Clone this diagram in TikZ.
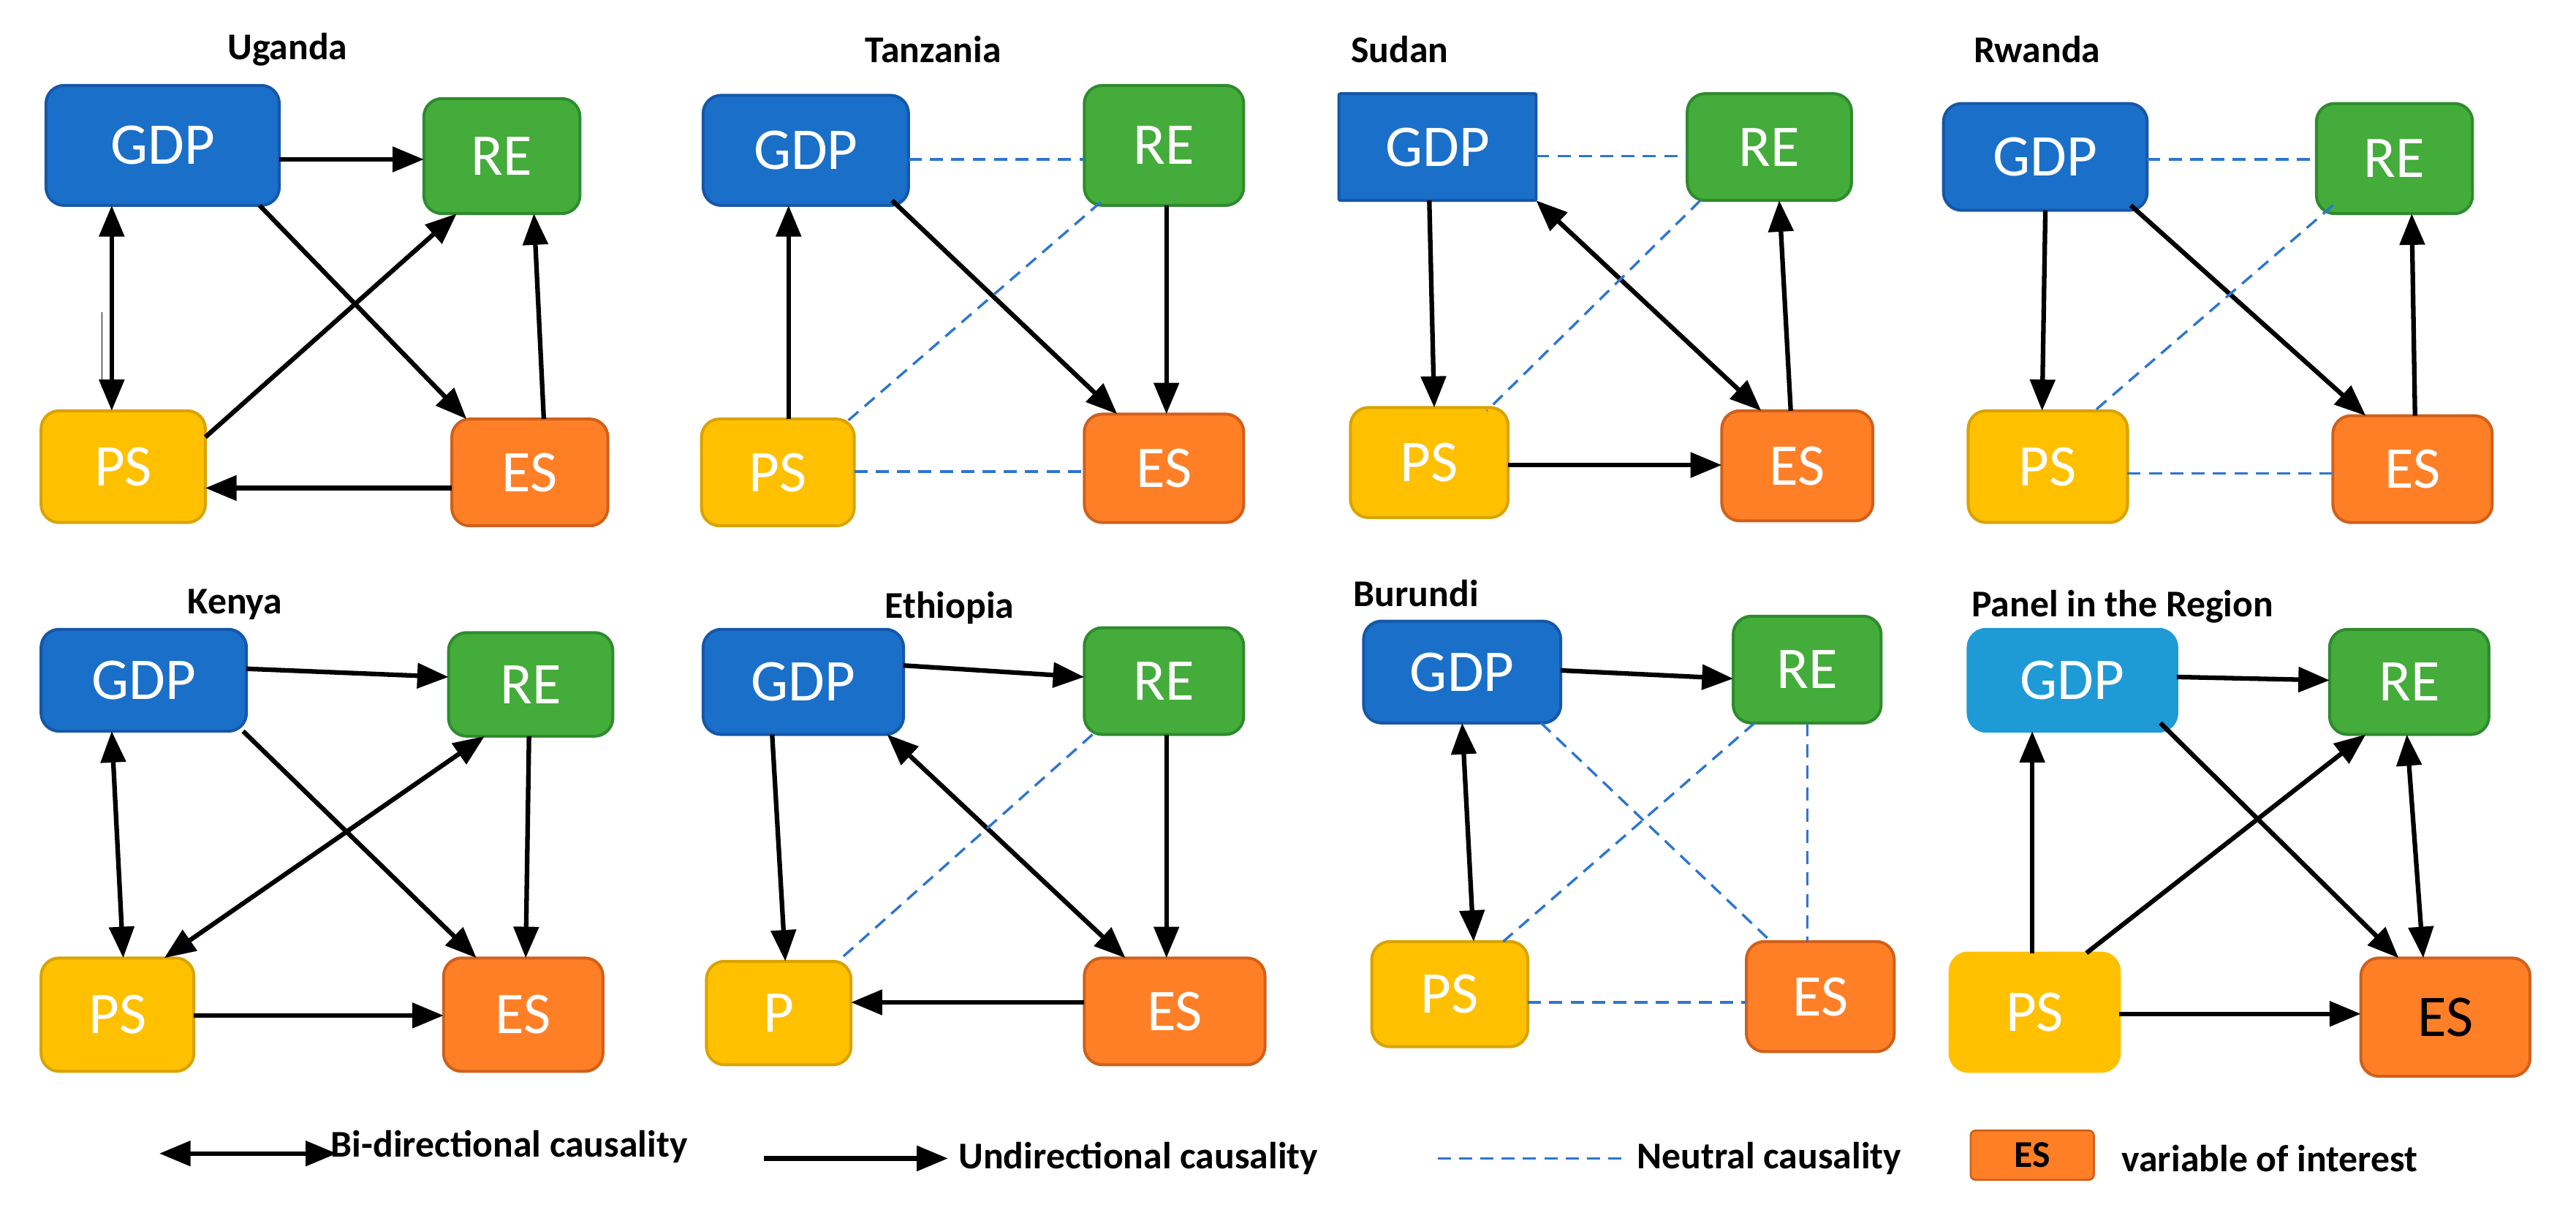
\documentclass[tikz,border=0pt]{standalone}
\usepackage{fontspec}
\setmainfont{Carlito}
\usetikzlibrary{arrows.meta}
\definecolor{cB}{HTML}{1A6FC9}\definecolor{cBd}{HTML}{1557A8}
\definecolor{cLB}{HTML}{1E9AD6}
\definecolor{cG}{HTML}{44AC3A}\definecolor{cGd}{HTML}{2E8B2E}
\definecolor{cY}{HTML}{FFC000}\definecolor{cYd}{HTML}{D9A300}
\definecolor{cO}{HTML}{FF7F27}\definecolor{cOd}{HTML}{D0601A}
\definecolor{cN}{HTML}{2E75D0}
\newcommand\bx[7]{%
 \expandafter\def\csname bx@#1@x\endcsname{#2}%
 \expandafter\def\csname bx@#1@y\endcsname{#3}%
 \node[box,#6,minimum width={(#4-#2)*1pt},minimum height={(#5-#3)*1pt},anchor=north west] (#1) at (#2,#3) {#7};}
\newcommand\pp[3]{([shift={({#2-\csname bx@#1@x\endcsname},{#3-\csname bx@#1@y\endcsname})}]#1.north west)}
\newcommand\ar[7]{\draw[#1] \pp{#2}{#3}{#4} -- \pp{#5}{#6}{#7};}
\begin{document}
\begin{tikzpicture}[x=1pt,y=-1pt,
 box/.style={rounded corners=11pt,line width=1.8pt,inner sep=0pt,outer sep=0pt,text=white,font=\fontsize{36}{38}\selectfont},
 gdp/.style={fill=cB,draw=cBd},lgdp/.style={fill=cLB,draw=cLB},
 re/.style={fill=cG,draw=cGd},ps/.style={fill=cY,draw=cYd},es/.style={fill=cO,draw=cOd},
 uni/.style={line width=2.8pt,-{Triangle[length=19pt,width=15pt]}},
 bi/.style={line width=2.8pt,{Triangle[length=19pt,width=15pt]}-{Triangle[length=19pt,width=15pt]}},
 neu/.style={draw=cN,line width=1.5pt,dash pattern=on 8pt off 5pt},
 ttl/.style={font=\fontsize{23}{25}\selectfont\bfseries},
 lg/.style={font=\fontsize{23}{25}\selectfont\bfseries,anchor=west}]
\useasboundingbox (0,0) rectangle (1568,736);
% Uganda
\node[ttl] (t1) at (175,30) {Uganda};
\bx{G1}{28}{52}{170}{125}{gdp}{GDP}\bx{R1}{258}{60}{353}{130}{re}{RE}
\bx{P1}{25}{250}{125}{318}{ps}{PS}\bx{E1}{275}{255}{370}{320}{es}{ES}
\ar{uni}{G1}{170}{97}{R1}{258}{97}
\ar{bi}{G1}{68}{125}{P1}{68}{250}
\ar{uni}{P1}{125}{266}{R1}{278}{130}
\ar{uni}{G1}{158}{125}{E1}{284}{255}
\ar{uni}{E1}{331}{255}{R1}{325}{130}
\ar{uni}{E1}{275}{297}{P1}{125}{297}
\draw[line width=0.7pt] \pp{G1}{62}{190} -- \pp{G1}{62}{236};
% Tanzania
\node[ttl] (t2) at (568,30) {Tanzania};
\bx{G2}{428}{58}{553}{125}{gdp}{GDP}\bx{R2}{660}{52}{757}{125}{re}{RE}
\bx{P2}{427}{255}{520}{320}{ps}{PS}\bx{E2}{660}{252}{757}{318}{es}{ES}
\ar{neu}{G2}{553}{97}{R2}{660}{97}
\ar{uni}{P2}{480}{255}{G2}{480}{125}
\ar{uni}{G2}{543}{122}{E2}{680}{252}
\ar{uni}{R2}{710}{125}{E2}{710}{252}
\ar{neu}{R2}{670}{123}{P2}{515}{257}
\ar{neu}{P2}{520}{287}{E2}{660}{287}
% Sudan
\node[ttl] (t3) at (852,30) {Sudan};
\bx{G3}{815}{57}{935}{122}{gdp,rounded corners=1pt}{GDP}\bx{R3}{1027}{57}{1127}{122}{re}{RE}
\bx{P3}{822}{248}{918}{315}{ps}{PS}\bx{E3}{1048}{250}{1140}{317}{es}{ES}
\ar{neu}{G3}{935}{95}{R3}{1027}{95}
\ar{uni}{G3}{870}{122}{P3}{873}{248}
\ar{bi}{G3}{935}{122}{E3}{1072}{250}
\ar{uni}{E3}{1090}{250}{R3}{1083}{122}
\ar{uni}{P3}{918}{283}{E3}{1048}{283}
\ar{neu}{R3}{1035}{122}{P3}{905}{250}
% Rwanda
\node[ttl] (t4) at (1240,30) {Rwanda};
\bx{G4}{1183}{63}{1307}{128}{gdp}{GDP}\bx{R4}{1410}{63}{1505}{130}{re}{RE}
\bx{P4}{1198}{250}{1295}{318}{ps}{PS}\bx{E4}{1420}{253}{1517}{318}{es}{ES}
\ar{neu}{G4}{1307}{97}{R4}{1410}{97}
\ar{uni}{G4}{1245}{128}{P4}{1243}{250}
\ar{uni}{G4}{1297}{125}{E4}{1440}{253}
\ar{uni}{E4}{1470}{253}{R4}{1468}{130}
\ar{neu}{R4}{1420}{125}{P4}{1275}{250}
\ar{neu}{P4}{1295}{288}{E4}{1420}{288}
% Kenya
\node[ttl] (t5) at (143,368) {Kenya};
\bx{G5}{25}{383}{150}{445}{gdp}{GDP}\bx{R5}{273}{385}{373}{448}{re}{RE}
\bx{P5}{25}{583}{118}{652}{ps}{PS}\bx{E5}{270}{583}{367}{652}{es}{ES}
\ar{uni}{G5}{150}{407}{R5}{273}{412}
\ar{bi}{G5}{68}{445}{P5}{75}{583}
\ar{uni}{G5}{148}{445}{E5}{290}{583}
\ar{bi}{R5}{295}{448}{P5}{100}{583}
\ar{uni}{R5}{322}{448}{E5}{320}{583}
\ar{uni}{P5}{118}{618}{E5}{270}{618}
% Ethiopia
\node[ttl] (t6) at (578,370) {Ethiopia};
\bx{G6}{428}{383}{550}{447}{gdp}{GDP}\bx{R6}{660}{382}{757}{447}{re}{RE}
\bx{P6}{430}{585}{518}{648}{ps}{P}\bx{E6}{660}{583}{770}{648}{es}{ES}
\ar{uni}{G6}{550}{405}{R6}{660}{412}
\ar{uni}{G6}{470}{447}{P6}{478}{585}
\ar{bi}{G6}{540}{447}{E6}{685}{583}
\ar{uni}{R6}{710}{447}{E6}{710}{583}
\ar{neu}{R6}{665}{447}{P6}{510}{585}
\ar{uni}{E6}{660}{610}{P6}{518}{610}
% Burundi
\node[ttl] (t7) at (862,361) {Burundi};
\bx{G7}{830}{378}{950}{440}{gdp}{GDP}\bx{R7}{1055}{375}{1145}{440}{re}{RE}
\bx{P7}{835}{573}{930}{637}{ps}{PS}\bx{E7}{1063}{573}{1153}{640}{es}{ES}
\ar{uni}{G7}{950}{408}{R7}{1055}{413}
\ar{bi}{G7}{890}{440}{P7}{897}{573}
\ar{neu}{G7}{938}{440}{E7}{1078}{573}
\ar{neu}{R7}{1100}{440}{E7}{1100}{573}
\ar{neu}{R7}{1068}{440}{P7}{915}{573}
\ar{neu}{P7}{930}{610}{E7}{1063}{610}
% Panel
\node[ttl] (t8) at (1292,369) {Panel in the Region};
\bx{G8}{1198}{383}{1325}{445}{lgdp}{GDP}\bx{R8}{1418}{383}{1515}{447}{re}{RE}
\bx{P8}{1187}{580}{1290}{652}{ps,draw=cY}{PS}\bx{E8}{1437}{583}{1540}{655}{es,text=black}{ES}
\ar{uni}{G8}{1325}{412}{R8}{1418}{414}
\ar{uni}{P8}{1237}{580}{G8}{1237}{445}
\ar{uni}{G8}{1315}{440}{E8}{1460}{583}
\ar{uni}{P8}{1270}{580}{R8}{1440}{447}
\ar{bi}{R8}{1465}{447}{E8}{1475}{583}
\ar{uni}{P8}{1290}{617}{E8}{1437}{617}
% Legend
\coordinate (l1a) at (97,702);\coordinate (l1b) at (205,702);
\draw[bi] (l1a) -- (l1b);
\node[lg] (lt1) at (198,698) {Bi-directional causality};
\coordinate (l2a) at (465,705);\coordinate (l2b) at (577,705);
\draw[uni] (l2a) -- (l2b);
\node[lg] (lt2) at (580,705) {Undirectional causality};
\coordinate (l3a) at (875,705);\coordinate (l3b) at (990,705);
\draw[neu] (l3a) -- (l3b);
\node[lg] (lt3) at (993,705) {Neutral causality};
\node[fill=cO,draw=cOd,line width=1.2pt,rounded corners=3pt,minimum width=75pt,minimum height=30pt,inner sep=0pt,font=\fontsize{23}{25}\selectfont\bfseries] (les) at (1237,703) {ES};
\node[lg] (lt4) at (1288,705) {variable of interest};
\end{tikzpicture}
\end{document}
